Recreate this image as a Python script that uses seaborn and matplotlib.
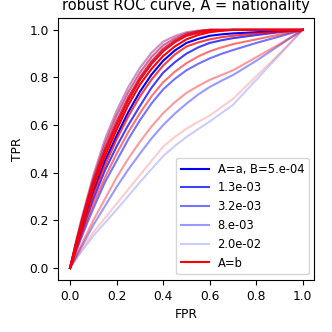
import matplotlib
matplotlib.use("Agg")
import matplotlib.pyplot as plt
import seaborn as sns

# ---- data ----
fpr = [0, 0.025, 0.05, 0.075, 0.1, 0.15, 0.2, 0.25, 0.3, 0.35, 0.4,
       0.45, 0.5, 0.55, 0.6, 0.65, 0.7, 0.8, 0.9, 1.0]

b_labels = ["5.e-04", "1.3e-03", "3.2e-03", "8.e-03", "2.0e-02"]

# group A=a (blue), one curve per labelled B value
tpr_a_5e4 = [0, 0.088, 0.17, 0.248, 0.32, 0.45, 0.555, 0.654, 0.74, 0.812, 0.87,
             0.913, 0.945, 0.962, 0.975, 0.981, 0.985, 0.99, 0.995, 1.0]
tpr_a_13e4 = [0, 0.078, 0.15, 0.222, 0.29, 0.41, 0.51, 0.60, 0.68, 0.757, 0.82,
              0.864, 0.90, 0.926, 0.945, 0.956, 0.965, 0.978, 0.99, 1.0]
tpr_a_32e4 = [0, 0.067, 0.13, 0.192, 0.25, 0.36, 0.45, 0.54, 0.62, 0.691, 0.75,
              0.794, 0.83, 0.857, 0.88, 0.899, 0.915, 0.945, 0.972, 1.0]
tpr_a_8e3 = [0, 0.045, 0.09, 0.135, 0.18, 0.26, 0.34, 0.413, 0.48, 0.544, 0.60,
             0.648, 0.69, 0.728, 0.76, 0.786, 0.81, 0.87, 0.935, 1.0]
tpr_a_2e2 = [0, 0.035, 0.07, 0.102, 0.135, 0.19, 0.245, 0.302, 0.36, 0.415, 0.47,
             0.512, 0.55, 0.583, 0.615, 0.65, 0.685, 0.79, 0.895, 1.0]

# group A=b (red), one curve per labelled B value
tpr_b_5e4 = [0, 0.093, 0.18, 0.263, 0.34, 0.47, 0.58, 0.684, 0.77, 0.836, 0.89,
             0.93, 0.96, 0.978, 0.99, 0.996, 1.0, 1.0, 1.0, 1.0]
tpr_b_13e4 = [0, 0.083, 0.16, 0.238, 0.31, 0.43, 0.54, 0.636, 0.72, 0.791, 0.85,
              0.896, 0.93, 0.947, 0.96, 0.969, 0.975, 0.985, 0.992, 1.0]
tpr_b_32e4 = [0, 0.072, 0.14, 0.207, 0.27, 0.38, 0.48, 0.57, 0.65, 0.721, 0.78,
              0.824, 0.86, 0.888, 0.91, 0.926, 0.94, 0.96, 0.98, 1.0]
tpr_b_8e3 = [0, 0.05, 0.10, 0.15, 0.20, 0.29, 0.38, 0.459, 0.53, 0.594, 0.65,
             0.696, 0.735, 0.764, 0.79, 0.81, 0.83, 0.885, 0.94, 1.0]
tpr_b_2e2 = [0, 0.04, 0.08, 0.115, 0.15, 0.21, 0.27, 0.33, 0.39, 0.45, 0.51,
             0.55, 0.585, 0.613, 0.64, 0.675, 0.71, 0.805, 0.90, 1.0]

# additional unlabelled curves (smaller B values)
tpr_extra_1 = [0, 0.11, 0.21, 0.30, 0.39, 0.54, 0.66, 0.759, 0.84, 0.904, 0.95,
               0.974, 0.99, 0.997, 1.0, 1.0, 1.0, 1.0, 1.0, 1.0]
tpr_extra_2 = [0, 0.105, 0.20, 0.29, 0.375, 0.52, 0.64, 0.738, 0.82, 0.886, 0.935,
               0.964, 0.985, 0.994, 1.0, 1.0, 1.0, 1.0, 1.0, 1.0]
tpr_extra_3 = [0, 0.10, 0.195, 0.283, 0.365, 0.50, 0.615, 0.716, 0.80, 0.868, 0.92,
               0.955, 0.98, 0.993, 1.0, 1.0, 1.0, 1.0, 1.0, 1.0]
tpr_extra_4 = [0, 0.098, 0.19, 0.276, 0.355, 0.49, 0.60, 0.704, 0.79, 0.857, 0.91,
               0.948, 0.975, 0.987, 0.995, 0.998, 1.0, 1.0, 1.0, 1.0]

tpr_a = [tpr_a_5e4, tpr_a_13e4, tpr_a_32e4, tpr_a_8e3, tpr_a_2e2]
tpr_b = [tpr_b_5e4, tpr_b_13e4, tpr_b_32e4, tpr_b_8e3, tpr_b_2e2]
extra_curves = [tpr_extra_1, tpr_extra_2, tpr_extra_3, tpr_extra_4]

# ---- styles ----
alphas = [1.0, 0.75, 0.55, 0.4, 0.2]
extra_alpha_blue = [0.25, 0.3, 0.35, 0.5]
extra_alpha_red = [0.25, 0.4, 0.7, 0.85]

fig = plt.figure(figsize=(3.32, 3.32), dpi=100)
ax = fig.add_axes([0.176, 0.157, 0.771, 0.789])

lw = 1.5
kw = dict(ax=ax, lw=lw, sort=False, estimator=None)
for tpr, al in zip(extra_curves, extra_alpha_blue):
    sns.lineplot(x=fpr, y=tpr, color="blue", alpha=al, legend=False, **kw)
for i, (tpr, al) in enumerate(zip(tpr_a, alphas)):
    lab = f"A=a, B={b_labels[i]}" if i == 0 else b_labels[i]
    sns.lineplot(x=fpr, y=tpr, color="blue", alpha=al, label=lab, **kw)
for tpr, al in zip(extra_curves, extra_alpha_red):
    sns.lineplot(x=fpr, y=tpr, color="red", alpha=al, legend=False, **kw)
for i, (tpr, al) in enumerate(zip(tpr_b, alphas)):
    lab = "A=b" if i == 0 else None
    sns.lineplot(x=fpr, y=tpr, color="red", alpha=al, label=lab, **kw)

ax.set_xlim(-0.05, 1.05)
ax.set_ylim(-0.05, 1.05)
ax.set_xticks([0, 0.2, 0.4, 0.6, 0.8, 1.0])
ax.set_yticks([0, 0.2, 0.4, 0.6, 0.8, 1.0])
ax.tick_params(labelsize=8.8)
ax.set_xlabel("FPR", fontsize=8.8)
ax.set_ylabel("TPR", fontsize=8.8)
ax.set_title("robust ROC curve, A = nationality", fontsize=10.5)

h, l = ax.get_legend_handles_labels()
ax.legend(h, l, loc="lower right", fontsize=8.3, handlelength=2.5,
          handletextpad=0.7)

fig.savefig("out.png", dpi=100)
